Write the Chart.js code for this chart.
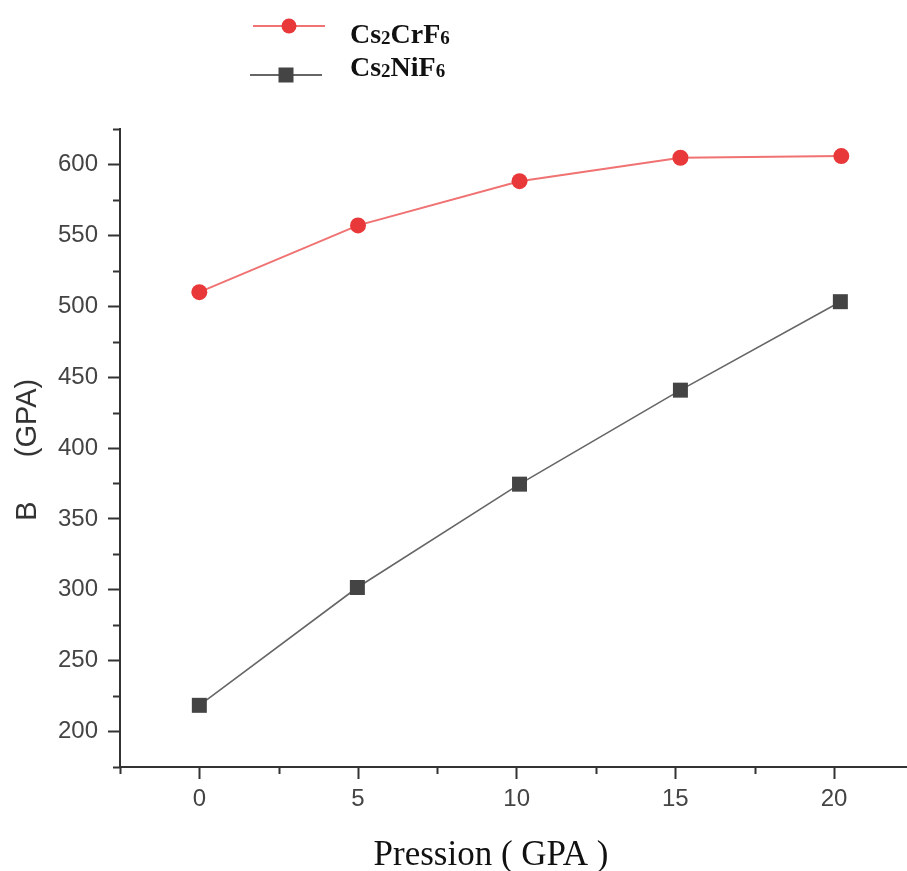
<!DOCTYPE html>
<html>
<head>
<meta charset="utf-8">
<script src="https://cdn.jsdelivr.net/npm/chart.js@4.4.1/dist/chart.umd.min.js"></script>
<style>
  html, body { margin: 0; padding: 0; background: #fff; overflow: hidden; }
  #wrap { width: 907px; height: 871px; position: relative; }
  #bulkChart { display: block; }
</style>
</head>
<body>
<div id="wrap"><canvas id="bulkChart"></canvas></div>
<script>
// pressure (GPa) and bulk modulus B (GPa)
const crPressure = [0, 5, 10.09, 15.16, 20.23];
const crBulk = [509.9, 557, 588.2, 604.7, 605.9];
const niPressure = [0, 4.98, 10.09, 15.16, 20.2];
const niBulk = [218.5, 301.6, 374.5, 440.8, 503.2];

const xTicks = [0, 5, 10, 15, 20];
const yTicks = [200, 250, 300, 350, 400, 450, 500, 550, 600];

const legendItems = [
    { name: ['Cs', '2', 'CrF', '6'], color: '#e8383a', line: '#f07272', style: 'circle' },
    { name: ['Cs', '2', 'NiF', '6'], color: '#444444', line: '#666666', style: 'square' },
];

const axisColor = '#333333';
const toPoints = (xs, ys) => xs.map((x, i) => ({ x, y: ys[i] }));

const isMajor = (v, step) => Math.abs(v / step - Math.round(v / step)) < 1e-6;

// minor ticks, axis titles and the legend drawn straight on the canvas
const extrasPlugin = {
    id: 'extras',
    afterDraw(chart) {
        const { ctx, chartArea } = chart;
        const xs = chart.scales.x;
        const ys = chart.scales.y;
        ctx.save();
        ctx.strokeStyle = axisColor;
        ctx.lineWidth = 2;

        for (let v = -2.5; v <= xs.max; v += 2.5) {
            if (isMajor(v, 5)) continue;
            const px = Math.round(xs.getPixelForValue(v)) + 0.5;
            ctx.beginPath();
            ctx.moveTo(px, chartArea.bottom);
            ctx.lineTo(px, chartArea.bottom + 7);
            ctx.stroke();
        }
        for (let v = 175; v <= ys.max; v += 25) {
            if (isMajor(v, 50)) continue;
            const py = Math.round(ys.getPixelForValue(v)) + 0.5;
            ctx.beginPath();
            ctx.moveTo(chartArea.left, py);
            ctx.lineTo(chartArea.left - 7, py);
            ctx.stroke();
        }

        // y title
        ctx.save();
        ctx.translate(28, 0);
        ctx.rotate(-Math.PI / 2);
        ctx.fillStyle = '#333';
        ctx.font = '29px "Liberation Sans", Arial, sans-serif';
        ctx.textAlign = 'center';
        ctx.textBaseline = 'middle';
        ctx.fillText('B', -511, 0);
        ctx.fillText('(GPA)', -418, 0);
        ctx.restore();

        // x title
        ctx.fillStyle = '#111';
        ctx.font = '35px "Liberation Serif", "Times New Roman", serif';
        ctx.textAlign = 'center';
        ctx.textBaseline = 'alphabetic';
        ctx.fillText('Pression ( GPA )', 491, 865);

        // legend
        legendItems.forEach((item, i) => {
            const y = i === 0 ? 26 : 75;
            const x0 = i === 0 ? 253 : 250;
            ctx.strokeStyle = item.line;
            ctx.lineWidth = 2;
            ctx.beginPath();
            ctx.moveTo(x0, y);
            ctx.lineTo(x0 + 72, y);
            ctx.stroke();
            ctx.fillStyle = item.color;
            const cx = x0 + 36;
            if (item.style === 'circle') {
                ctx.beginPath();
                ctx.arc(cx, y, 7.5, 0, Math.PI * 2);
                ctx.fill();
            } else {
                ctx.fillRect(cx - 7.5, y - 7.5, 15, 15);
            }

            let tx = 350;
            const base = i === 0 ? 43 : 76;
            ctx.fillStyle = '#111';
            ctx.textAlign = 'left';
            item.name.forEach((part, k) => {
                const sub = k % 2 === 1;
                ctx.font = sub ? 'bold 19px "Liberation Serif", serif' : 'bold 28px "Liberation Serif", serif';
                ctx.fillText(part, tx, sub ? base + 1 : base);
                tx += ctx.measureText(part).width;
            });
        });
        ctx.restore();
    },
};

new Chart(document.getElementById('bulkChart'), {
    type: 'line',
    data: {
        datasets: [
            {
                label: 'Cs2CrF6',
                data: toPoints(crPressure, crBulk),
                borderColor: '#f07272',
                borderWidth: 2,
                backgroundColor: '#e8383a',
                pointBackgroundColor: '#e8383a',
                pointBorderWidth: 0,
                pointRadius: 8,
                pointStyle: 'circle',
                tension: 0,
            },
            {
                label: 'Cs2NiF6',
                data: toPoints(niPressure, niBulk),
                borderColor: '#666666',
                borderWidth: 1.6,
                backgroundColor: '#444444',
                pointBackgroundColor: '#444444',
                pointBorderWidth: 0,
                pointRadius: 10.6,
                pointStyle: 'rect',
                tension: 0,
            },
        ],
    },
    options: {
        responsive: true,
        maintainAspectRatio: false,
        animation: false,
        layout: { autoPadding: false, padding: { top: 129, right: 0, left: 0, bottom: 0 } },
        plugins: {
            legend: { display: false },
            tooltip: { enabled: false },
        },
        scales: {
            x: {
                type: 'linear',
                min: -2.5,
                max: 22.3,
                afterFit: (scale) => {
                    scale.height = 104;
                    scale.paddingLeft = 0;
                    scale.paddingRight = 0;
                },
                afterBuildTicks: (scale) => { scale.ticks = xTicks.map((v) => ({ value: v })); },
                ticks: {
                    color: '#444',
                    font: { family: '"Liberation Sans", Arial, sans-serif', size: 24 },
                    padding: 6,
                    maxRotation: 0,
                },
                grid: {
                    drawOnChartArea: false,
                    drawTicks: true,
                    tickLength: 12,
                    tickColor: axisColor,
                    tickWidth: 2,
                },
                border: { display: true, color: axisColor, width: 2 },
            },
            y: {
                type: 'linear',
                min: 175,
                max: 625,
                afterFit: (scale) => {
                    scale.width = 120;
                    scale.paddingTop = 0;
                    scale.paddingBottom = 0;
                },
                afterBuildTicks: (scale) => { scale.ticks = yTicks.map((v) => ({ value: v })); },
                ticks: {
                    color: '#444',
                    font: { family: '"Liberation Sans", Arial, sans-serif', size: 24 },
                    padding: 10,
                },
                grid: {
                    drawOnChartArea: false,
                    drawTicks: true,
                    tickLength: 12,
                    tickColor: axisColor,
                    tickWidth: 2,
                },
                border: { display: true, color: axisColor, width: 2 },
            },
        },
    },
    plugins: [extrasPlugin],
});
</script>
</body>
</html>
